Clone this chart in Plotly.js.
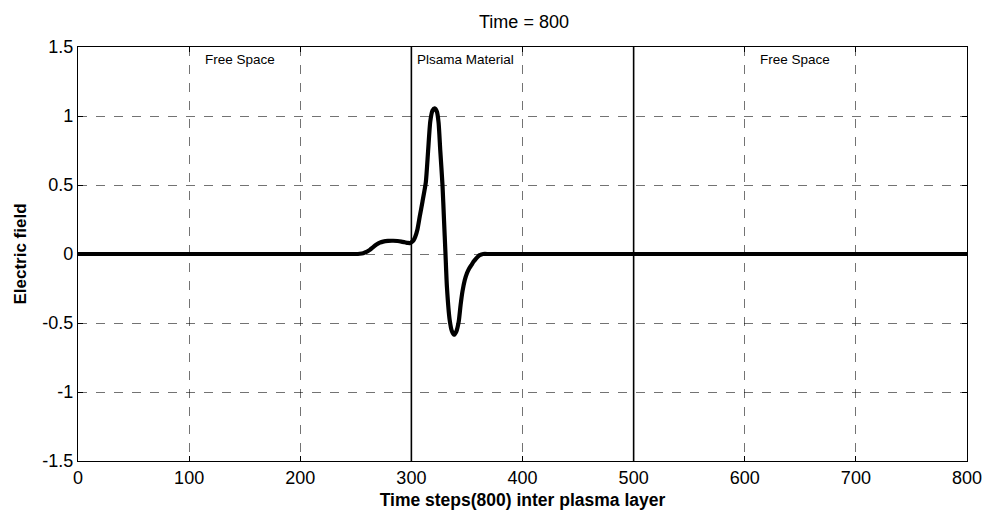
<!DOCTYPE html>
<html>
<head>
<meta charset="utf-8">
<script src="https://cdn.plot.ly/plotly-3.0.1.min.js"></script>
<style>html,body{margin:0;padding:0;background:#fff;}#chart{width:989px;height:512px;}</style>
</head>
<body>
<div id="chart"></div>
<script>
const xSteps = [0, 100, 200, 230, 240, 246, 250, 253.5, 256.6, 259.6, 262.6, 265.6, 268.6, 271.6, 274.6, 279, 283.6, 287.5, 291, 294, 297, 299, 300.5, 302, 303.5, 305.5, 307.5, 310, 313, 315, 317, 319, 321, 323, 324.5, 326, 328, 329.4, 330.6, 332, 334.5, 336.5, 338.4, 340.5, 342.6, 344.3, 346, 348, 350, 352, 354, 356, 358, 360, 361.5, 363, 364.5, 370, 380, 400, 500, 600, 700, 800];
const eField = [0, 0, 0, 0, 0, 0, 0, 0.002, 0.006, 0.015, 0.03, 0.05, 0.068, 0.082, 0.09, 0.095, 0.096, 0.094, 0.09, 0.085, 0.08, 0.08, 0.088, 0.1, 0.125, 0.18, 0.27, 0.38, 0.52, 0.74, 0.96, 1.04, 1.055, 1.03, 0.95, 0.75, 0.5, 0.24, 0.02, -0.24, -0.48, -0.56, -0.585, -0.56, -0.49, -0.37, -0.27, -0.19, -0.14, -0.105, -0.08, -0.055, -0.035, -0.018, -0.008, -0.003, 0, 0, 0, 0, 0, 0, 0, 0];
const boundaries = [300, 500];
const regionLabels = [
  {x: 146, text: 'Free Space', anchor: 'center'},
  {x: 303.5, text: 'Plsama Material', anchor: 'left'},
  {x: 645, text: 'Free Space', anchor: 'center'}
];
const xTicks = [0, 100, 200, 300, 400, 500, 600, 700, 800];
const yTicks = [-1.5, -1, -0.5, 0, 0.5, 1, 1.5];

const FONT = 'Arial, "Liberation Sans", sans-serif';

const traces = [{
  x: xSteps, y: eField, type: 'scatter', mode: 'lines',
  line: {color: '#000', width: 4.2, shape: 'spline', smoothing: 0.6},
  hoverinfo: 'skip'
}];

const shapes = boundaries.map(b => ({
  type: 'line', xref: 'x', yref: 'paper', x0: b, x1: b, y0: 0, y1: 1,
  line: {color: '#000', width: 1.6}
}));

const annotations = regionLabels.map(r => ({
  x: r.x, y: 1.48, xref: 'x', yref: 'y', text: r.text, showarrow: false,
  xanchor: r.anchor, yanchor: 'top', font: {family: FONT, size: 13.5, color: '#000'}
}));

const axisCommon = {
  showline: true, linecolor: '#000', linewidth: 1.2, mirror: 'ticks',
  ticks: 'inside', ticklen: 5, tickcolor: '#000',
  showgrid: true, gridcolor: 'rgba(0,0,0,0.55)', griddash: 'dash', gridwidth: 1,
  zeroline: false,
  tickfont: {family: FONT, size: 18, color: '#000'}
};

const layout = {
  width: 989, height: 512,
  margin: {l: 78, r: 21.5, t: 46.5, b: 51},
  paper_bgcolor: '#fff', plot_bgcolor: '#fff',
  showlegend: false,
  title: {text: 'Time = 800', x: 524 / 989, xref: 'container', xanchor: 'center',
    y: 1 - 21.5 / 512, yref: 'container', yanchor: 'middle',
    font: {family: FONT, size: 18, color: '#000'}},
  xaxis: Object.assign({}, axisCommon, {
    range: [0, 800], tickvals: xTicks, ticktext: xTicks.map(String),
    title: {text: '<b>Time steps(800) inter plasma layer</b>', standoff: 7,
      font: {family: FONT, size: 17.5, color: '#000'}}
  }),
  yaxis: Object.assign({}, axisCommon, {
    range: [-1.5, 1.5], tickvals: yTicks, ticktext: yTicks.map(String),
    title: {text: '<b>Electric field</b>', standoff: 11,
      font: {family: FONT, size: 17, color: '#000'}}
  }),
  shapes: shapes,
  annotations: annotations
};

Plotly.newPlot('chart', traces, layout, {displayModeBar: false, staticPlot: true});
</script>
</body>
</html>
